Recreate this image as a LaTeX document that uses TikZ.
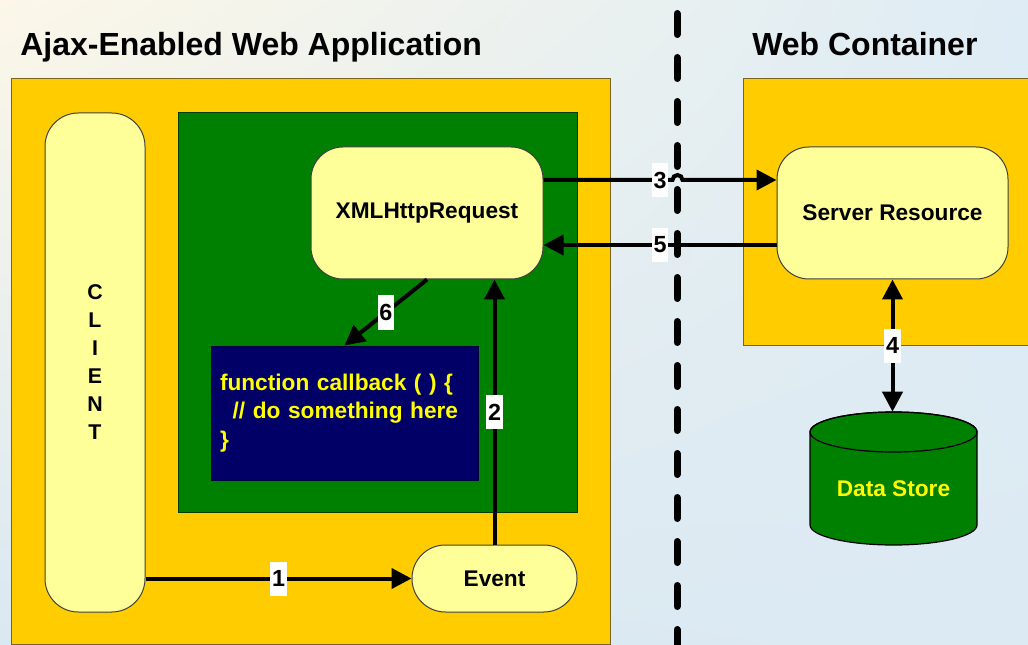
\documentclass[tikz,border=0pt]{standalone}
\usepackage{fontspec}
\setmainfont{Liberation Sans}
\usetikzlibrary{arrows.meta,calc,shadings}
\definecolor{boxyel}{RGB}{255,204,0}
\definecolor{boxedge}{RGB}{120,100,30}
\definecolor{paleyel}{RGB}{255,255,153}
\definecolor{grn}{RGB}{0,128,0}
\definecolor{grnedge}{RGB}{0,60,0}
\definecolor{navybox}{RGB}{0,0,102}
\definecolor{txtyel}{RGB}{255,255,0}
\definecolor{bgA}{RGB}{252,247,232}
\definecolor{bgB}{RGB}{222,236,245}
\definecolor{bgC}{RGB}{218,232,242}
\definecolor{bgD}{RGB}{220,234,243}
\tikzset{
  region/.style={draw=boxedge, line width=0.75pt, fill=boxyel},
  pill/.style={draw=black!75, line width=0.75pt, fill=paleyel, rounded corners=24pt,
    font=\fontsize{17}{20}\selectfont\bfseries, inner sep=0pt},
  flow/.style={line width=3pt, -{Triangle[length=15pt,width=15pt]}},
  lbl/.style={fill=white, inner xsep=1.2pt, inner ysep=0pt, minimum height=25.5pt,
    font=\fontsize{17.5}{18}\selectfont\bfseries},
  heading/.style={anchor=base west, inner sep=0pt, font=\fontsize{24}{28}\selectfont\bfseries},
  divider/.style={line width=5.25pt, line cap=round, dash pattern=on 15.75pt off 17.25pt}
}
\begin{document}
\begin{tikzpicture}[x=0.75pt,y=-0.75pt]
\useasboundingbox (0,0) rectangle (1028,645);
\clip (0,0) rectangle (1028,645);
\shade[upper left=bgA, upper right=bgB, lower left=bgC, lower right=bgD] (0,0) rectangle (1028,645);

% regions
\draw[region] (11,79) rectangle (610,644);
\draw[region] (743,79) rectangle (1040,345);
\draw[draw=grnedge, line width=0.75pt, fill=grn] (178,113) rectangle (577,512);

% titles
\node[heading] (t1) at (20,56) {Ajax-Enabled Web Application};
\node[heading] (t2) at (752,56) {Web Container};

% divider
\draw[divider] (677,13.5) -- (677,670);

% nodes
\node[pill, rounded corners=25pt, minimum width=75pt, minimum height=374.25pt,
      align=center, font=\fontsize{16}{21}\selectfont\bfseries] (client) at (95,362.5)
      {C\\L\\I\\E\\N\\T};
\node[pill, minimum width=174pt, minimum height=99pt] (xhr) at (427,213) {XMLHttpRequest};
\node[pill, minimum width=173.25pt, minimum height=99pt] (srv) at (892.5,213) {Server Resource};
\node[pill, rounded corners=25pt, minimum width=123.75pt, minimum height=50.25pt] (ev) at (494.5,578.5) {Event};
\node[draw=navybox!60!black, line width=0.75pt, fill=navybox, text=txtyel,
      minimum width=200.25pt, minimum height=100.5pt, text width=186.75pt,
      inner xsep=6.75pt, inner ysep=0pt, align=left,
      font=\fontsize{17}{21.4}\selectfont\bfseries] (cb) at (344.5,413)
      {function callback ( ) \{\\\hspace*{9.5pt}// do something here\\\}};

% data store cylinder
\draw[line width=0.9pt, fill=grn] (810,432) -- (810,525) arc (180:360:62.625pt and 15pt)
   -- (977,432) arc (0:180:62.625pt and 15pt) -- cycle;
\draw[line width=0.9pt] (893.5,432) ellipse [x radius=62.625pt, y radius=15pt];
\node[inner sep=0pt, minimum width=125.25pt, minimum height=99.75pt, text=txtyel,
      text height=31pt, text depth=4pt,
      font=\fontsize{17}{20}\selectfont\bfseries] (ds) at (893.5,478.5) {Data Store};

% connectors
\coordinate (a3) at ($(xhr.east)+(0,-33)$);
\coordinate (b3) at ($(srv.west)+(0,-33)$);
\coordinate (h1) at ($(a3)+(129,0)$);
\draw[flow] (a3) -- (h1) arc (180:0:3.75pt) -- (b3);
\path (a3) -- node[lbl] {3} (b3);

\coordinate (a5) at ($(srv.west)+(0,32)$);
\coordinate (b5) at ($(xhr.east)+(0,32)$);
\draw[flow] (a5) -- node[lbl] {5} (b5);

\draw[flow] (client.east |- ev.west) -- node[lbl] {1} (ev.west);
\draw[flow] (ev.north) -- node[lbl] {2} (ev.north |- xhr.south);
\draw[flow] (xhr.south) -- node[lbl] {6} (cb.north);
\draw[line width=3pt, {Triangle[length=15pt,width=15pt]}-{Triangle[length=15pt,width=15pt]}]
   (srv.south) -- node[lbl] {4} (srv.south |- ds.north);
\end{tikzpicture}
\end{document}
